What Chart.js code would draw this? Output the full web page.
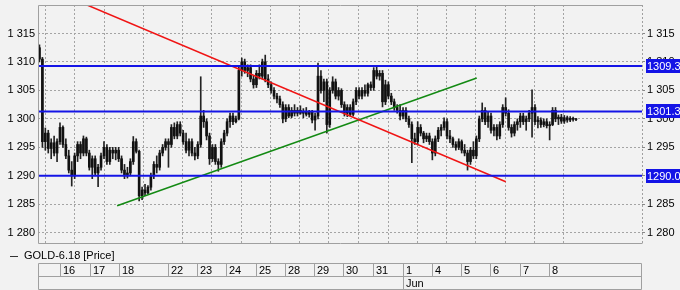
<!DOCTYPE html>
<html>
<head>
<meta charset="utf-8">
<script src="https://cdn.jsdelivr.net/npm/chart.js@4/dist/chart.umd.min.js"></script>
<style>
  html, body { margin: 0; padding: 0; background: #f2f2f2; }
  canvas { display: block; }
</style>
</head>
<body>
<canvas id="goldChart" width="680" height="290"></canvas>
<script>
// session labels under the chart and the bar index where each session starts
const dayLabels = ['16', '17', '18', '22', '23', '24', '25', '28', '29', '30', '31', '1', '4', '5', '6', '7', '8'];
const dayStarts = [7.5, 17.7, 27.6, 44.4, 54.3, 64.2, 74.4, 84.3, 94.2, 104.1, 114.3, 124.6, 134.5, 144.4, 154.3, 164.5, 174.4];
const monthLabels = ['Jun'];
const monthStarts = [124.6];
const yTickValues = [1280, 1285, 1290, 1295, 1300, 1305, 1310, 1315];

// horizontal levels and trend lines (bar index, price)
const levels = [1309.3, 1301.3, 1290.0];
const redTrend = [[16.74, 1320], [159.55, 1288.95]];
const greenTrend = [[26.99, 1284.74], [149.64, 1307.19]];

// GOLD-6.18 bars: [open, high, low, close]
const bars = [
  [1312.5, 1313.0, 1310.0, 1310.5], [1310.5, 1310.8, 1295.0, 1296.0], [1296.0, 1298.4, 1294.5, 1297.5], [1297.5, 1298.0, 1294.0, 1294.8],
  [1294.8, 1296.5, 1293.0, 1295.8], [1295.8, 1297.0, 1293.5, 1294.0], [1294.0, 1296.5, 1292.5, 1296.0], [1296.0, 1299.3, 1295.5, 1298.5],
  [1298.5, 1298.8, 1295.0, 1295.5], [1295.5, 1296.5, 1293.0, 1293.5], [1293.5, 1294.5, 1290.5, 1291.0], [1291.0, 1292.5, 1288.2, 1290.0],
  [1290.0, 1294.0, 1289.5, 1293.5], [1293.5, 1296.0, 1292.5, 1295.5], [1295.5, 1296.0, 1293.0, 1294.0], [1294.0, 1297.0, 1293.5, 1296.5],
  [1296.5, 1296.8, 1293.5, 1294.0], [1294.0, 1294.5, 1291.0, 1291.5], [1291.5, 1293.5, 1289.5, 1293.0], [1293.0, 1293.5, 1290.0, 1290.5],
  [1290.5, 1292.0, 1288.1, 1291.5], [1291.5, 1294.0, 1291.0, 1293.5], [1293.5, 1296.0, 1293.0, 1295.0], [1295.0, 1295.5, 1292.0, 1292.5],
  [1292.5, 1295.0, 1292.0, 1294.5], [1294.5, 1295.0, 1293.0, 1294.0], [1294.0, 1295.0, 1292.8, 1294.5], [1294.5, 1295.0, 1292.5, 1293.0],
  [1293.0, 1293.5, 1290.5, 1291.0], [1291.0, 1292.0, 1289.5, 1290.0], [1290.0, 1291.5, 1289.6, 1290.5], [1290.5, 1293.0, 1290.0, 1292.5],
  [1292.5, 1296.9, 1292.0, 1296.0], [1296.0, 1296.5, 1294.0, 1294.3], [1294.3, 1294.5, 1285.6, 1286.5], [1286.5, 1288.0, 1285.8, 1287.5],
  [1287.5, 1288.5, 1286.5, 1287.0], [1287.0, 1288.3, 1286.8, 1288.0], [1288.0, 1290.5, 1287.5, 1290.0], [1290.0, 1292.5, 1289.5, 1292.0],
  [1292.0, 1293.5, 1290.5, 1291.5], [1291.5, 1294.5, 1291.0, 1294.0], [1294.0, 1295.5, 1293.5, 1295.0], [1295.0, 1296.5, 1294.5, 1296.0],
  [1296.0, 1296.5, 1291.5, 1295.5], [1295.5, 1299.0, 1295.0, 1298.5], [1298.5, 1299.3, 1296.5, 1297.0], [1297.0, 1299.5, 1296.5, 1299.0],
  [1299.0, 1299.5, 1297.0, 1297.5], [1297.5, 1298.0, 1295.5, 1296.0], [1296.0, 1297.5, 1294.0, 1294.5], [1294.5, 1296.5, 1293.5, 1296.0],
  [1296.0, 1296.5, 1293.5, 1294.0], [1294.0, 1295.0, 1292.8, 1293.5], [1293.5, 1296.0, 1293.0, 1295.5], [1295.5, 1307.4, 1295.0, 1300.5],
  [1300.5, 1301.5, 1298.5, 1299.5], [1299.5, 1300.0, 1296.3, 1297.0], [1297.0, 1297.5, 1292.0, 1293.0], [1293.0, 1295.5, 1292.5, 1295.0],
  [1295.0, 1295.5, 1292.0, 1292.5], [1292.5, 1293.0, 1290.8, 1292.0], [1292.0, 1296.5, 1291.5, 1296.0], [1296.0, 1298.0, 1295.5, 1297.5],
  [1297.5, 1300.0, 1297.0, 1299.5], [1299.5, 1301.0, 1298.5, 1300.5], [1300.5, 1301.0, 1299.0, 1299.5], [1299.5, 1300.5, 1299.3, 1300.0],
  [1300.0, 1309.2, 1299.8, 1308.5], [1308.5, 1310.7, 1307.5, 1310.0], [1310.0, 1310.5, 1308.0, 1308.5], [1308.5, 1309.5, 1307.4, 1309.0],
  [1309.0, 1309.5, 1306.5, 1307.0], [1307.0, 1307.5, 1305.4, 1306.0], [1306.0, 1308.5, 1305.5, 1308.0], [1308.0, 1309.5, 1307.0, 1307.5],
  [1307.5, 1310.5, 1307.0, 1310.0], [1310.0, 1311.2, 1306.5, 1307.0], [1307.0, 1307.8, 1305.5, 1306.0], [1306.0, 1306.5, 1304.5, 1305.0],
  [1305.0, 1305.5, 1303.5, 1304.0], [1304.0, 1304.5, 1302.8, 1303.5], [1303.5, 1304.0, 1302.0, 1302.5], [1302.5, 1303.0, 1299.3, 1300.0],
  [1300.0, 1302.5, 1299.5, 1302.0], [1302.0, 1302.5, 1300.2, 1300.5], [1300.5, 1302.0, 1300.2, 1301.5], [1301.5, 1302.5, 1300.5, 1301.0],
  [1301.0, 1302.0, 1300.5, 1301.5], [1301.5, 1302.3, 1300.8, 1301.0], [1301.0, 1301.8, 1300.2, 1301.3], [1301.3, 1302.0, 1300.5, 1300.8],
  [1300.8, 1301.5, 1300.3, 1301.2], [1301.2, 1301.5, 1299.3, 1299.8], [1299.8, 1301.0, 1298.0, 1300.5], [1300.5, 1309.8, 1300.0, 1307.5],
  [1307.5, 1308.5, 1304.5, 1305.0], [1305.0, 1307.0, 1303.0, 1306.5], [1306.5, 1307.0, 1297.5, 1299.0], [1299.0, 1305.5, 1298.5, 1305.0],
  [1305.0, 1307.4, 1304.5, 1306.5], [1306.5, 1307.0, 1303.5, 1304.0], [1304.0, 1305.5, 1303.3, 1305.0], [1305.0, 1305.3, 1302.0, 1302.5],
  [1302.5, 1303.0, 1300.5, 1301.0], [1301.0, 1302.5, 1300.4, 1302.0], [1302.0, 1302.5, 1300.5, 1300.8], [1300.8, 1303.5, 1300.5, 1303.0],
  [1303.0, 1305.5, 1302.5, 1305.0], [1305.0, 1305.5, 1303.5, 1304.0], [1304.0, 1305.5, 1303.5, 1305.0], [1305.0, 1306.0, 1304.0, 1304.5],
  [1304.5, 1306.3, 1304.0, 1306.0], [1306.0, 1306.5, 1305.0, 1305.5], [1305.5, 1309.0, 1305.0, 1308.5], [1308.5, 1309.2, 1307.0, 1307.5],
  [1307.5, 1308.5, 1306.8, 1308.0], [1308.0, 1308.5, 1302.1, 1303.0], [1303.0, 1306.8, 1302.5, 1306.0], [1306.0, 1306.5, 1303.5, 1304.0],
  [1304.0, 1304.5, 1302.5, 1303.0], [1303.0, 1303.5, 1301.5, 1302.0], [1302.0, 1302.5, 1301.0, 1301.5], [1301.5, 1302.5, 1299.8, 1300.5],
  [1300.5, 1302.0, 1300.0, 1301.5], [1301.5, 1302.0, 1299.5, 1300.0], [1300.0, 1300.5, 1298.5, 1299.0], [1299.0, 1299.5, 1292.3, 1296.5],
  [1296.5, 1297.5, 1295.5, 1296.0], [1296.0, 1299.5, 1295.5, 1298.5], [1298.5, 1299.0, 1297.0, 1297.5], [1297.5, 1297.8, 1295.8, 1296.5],
  [1296.5, 1297.5, 1296.0, 1297.0], [1297.0, 1297.5, 1295.5, 1296.0], [1296.0, 1296.5, 1292.8, 1294.0], [1294.0, 1297.0, 1293.5, 1296.5],
  [1296.5, 1298.5, 1296.0, 1298.0], [1298.0, 1299.0, 1297.0, 1298.5], [1298.5, 1300.2, 1298.0, 1299.5], [1299.5, 1300.0, 1296.5, 1297.0],
  [1297.0, 1298.0, 1295.8, 1296.5], [1296.5, 1296.8, 1295.0, 1295.5], [1295.5, 1296.0, 1294.5, 1295.0], [1295.0, 1296.5, 1294.6, 1296.0],
  [1296.0, 1296.3, 1294.0, 1294.5], [1294.5, 1295.5, 1293.5, 1294.0], [1294.0, 1294.5, 1291.0, 1292.5], [1292.5, 1295.0, 1292.0, 1294.5],
  [1294.5, 1296.0, 1293.0, 1293.5], [1293.5, 1297.0, 1293.0, 1296.5], [1296.5, 1300.5, 1296.0, 1300.0], [1300.0, 1302.8, 1299.5, 1301.5],
  [1301.5, 1302.0, 1299.0, 1299.5], [1299.5, 1301.2, 1298.5, 1300.5], [1300.5, 1301.0, 1297.5, 1298.0], [1298.0, 1299.0, 1297.0, 1298.5],
  [1298.5, 1299.0, 1296.3, 1297.0], [1297.0, 1299.5, 1296.5, 1299.0], [1299.0, 1302.5, 1298.5, 1302.0], [1302.0, 1303.7, 1300.5, 1301.0],
  [1301.0, 1301.6, 1298.0, 1298.5], [1298.5, 1299.0, 1296.8, 1297.5], [1297.5, 1299.5, 1297.0, 1299.0], [1299.0, 1300.0, 1298.0, 1299.5],
  [1299.5, 1301.0, 1298.5, 1300.5], [1300.5, 1301.0, 1299.0, 1299.5], [1299.5, 1300.5, 1298.0, 1300.0], [1300.0, 1301.5, 1299.5, 1301.0],
  [1301.0, 1305.1, 1296.8, 1302.0], [1302.0, 1302.5, 1299.0, 1299.5], [1299.5, 1300.4, 1298.4, 1299.8], [1299.8, 1300.2, 1298.5, 1299.0],
  [1299.0, 1300.0, 1298.6, 1299.5], [1299.5, 1300.0, 1298.4, 1298.8], [1298.8, 1299.5, 1296.3, 1299.0], [1299.0, 1302.0, 1298.8, 1301.5],
  [1301.5, 1302.0, 1299.5, 1300.0], [1300.0, 1300.7, 1299.0, 1300.3], [1300.3, 1300.8, 1299.2, 1299.6], [1299.6, 1300.6, 1299.2, 1300.2],
  [1300.2, 1300.5, 1299.4, 1299.8], [1299.8, 1300.4, 1299.5, 1300.1], [1300.1, 1300.3, 1299.6, 1299.9], [1299.9, 1300.1, 1299.7, 1300.0]
];

const X_MAX = 206;
const Y_MIN = 1278.2;
const Y_MAX = 1320;
const GRID = '#a4a4a4';
const FRAME = '#a0a0a0';
const LEVEL_BLUE = '#1414e6';

Chart.defaults.font.family = '"Liberation Sans", Arial, sans-serif';
Chart.defaults.font.size = 11;
Chart.defaults.color = '#000';

const fmtPrice = v => String(v).replace(/(\d)(\d{3})$/, '$1 $2');

const wickData = bars.map((b, i) => ({ x: i + 0.5, y: [b[2], b[1]] }));
const bodyData = bars.map((b, i) => ({ x: i + 0.5, y: [Math.min(b[0], b[3]), Math.max(b[0], b[3])] }));
const lineOf = pts => pts.map(p => ({ x: p[0], y: p[1] }));

const levelSets = levels.map(lv => ({
    type: 'line',
    data: [{ x: 0, y: lv }, { x: X_MAX, y: lv }],
    borderColor: LEVEL_BLUE,
    borderWidth: 2,
    pointRadius: 0,
    order: 0
}));

// fixed axis boxes, no extra label padding
const fitY = s => { s.width = 38; s.paddingTop = 0; s.paddingBottom = 0; };

const frameAndTable = {
    id: 'frameAndTable',
    beforeDraw(chart) {
        const { ctx } = chart;
        ctx.save();
        ctx.fillStyle = '#f2f2f2';
        ctx.fillRect(0, 0, chart.width, chart.height);
        ctx.restore();
    },
    afterDraw(chart) {
        const { ctx, chartArea: a, scales } = chart;
        ctx.save();
        // plot frame
        ctx.strokeStyle = FRAME;
        ctx.lineWidth = 1;
        ctx.beginPath();
        ctx.moveTo(Math.round(a.right) + 0.5, Math.round(a.top) + 0.5);
        ctx.lineTo(Math.round(a.left) + 0.5, Math.round(a.top) + 0.5);
        ctx.lineTo(Math.round(a.left) + 0.5, Math.round(a.bottom) + 0.5);
        ctx.lineTo(Math.round(a.right) + 0.5, Math.round(a.bottom) + 0.5);
        ctx.stroke();
        ctx.setLineDash([2, 2]);
        ctx.beginPath();
        ctx.moveTo(Math.round(a.right) + 0.5, a.top);
        ctx.lineTo(Math.round(a.right) + 0.5, a.bottom);
        ctx.stroke();
        ctx.setLineDash([]);

        // price tags on the right
        ctx.font = '11px "Liberation Sans", Arial, sans-serif';
        ctx.textBaseline = 'middle';
        ctx.textAlign = 'left';
        levels.forEach(lv => {
            const y = Math.round(scales.y.getPixelForValue(lv));
            ctx.fillStyle = LEVEL_BLUE;
            ctx.fillRect(646, y - 7, 34, 14);
            ctx.fillStyle = '#fff';
            ctx.fillText(lv.toFixed(1), 647, y + 0.5);
        });

        // legend line
        ctx.strokeStyle = '#333';
        ctx.beginPath();
        ctx.moveTo(10, 256.5);
        ctx.lineTo(18, 256.5);
        ctx.stroke();
        ctx.fillStyle = '#000';
        ctx.fillText('GOLD-6.18 [Price]', 24, 256);

        // date table
        const L = Math.round(a.left) + 0.5;
        const R = Math.round(a.right) - 0.5;
        const rows = [263.5, 276.5, 289.5];
        ctx.strokeStyle = FRAME;
        ctx.beginPath();
        rows.forEach(y => { ctx.moveTo(L, y); ctx.lineTo(R, y); });
        ctx.moveTo(L, rows[0]); ctx.lineTo(L, rows[2]);
        ctx.moveTo(R, rows[0]); ctx.lineTo(R, rows[2]);
        dayStarts.forEach(d => {
            const x = Math.round(scales.x.getPixelForValue(d)) + 0.5;
            ctx.moveTo(x, rows[0]); ctx.lineTo(x, rows[1]);
        });
        monthStarts.forEach(d => {
            const x = Math.round(scales.x.getPixelForValue(d)) + 0.5;
            ctx.moveTo(x, rows[1]); ctx.lineTo(x, rows[2]);
        });
        ctx.stroke();
        ctx.fillStyle = '#000';
        dayLabels.forEach((t, k) => {
            ctx.fillText(t, Math.round(scales.x.getPixelForValue(dayStarts[k])) + 3, 270.5);
        });
        monthLabels.forEach((t, k) => {
            ctx.fillText(t, Math.round(scales.x.getPixelForValue(monthStarts[k])) + 3, 283.5);
        });
        ctx.restore();
    }
};

new Chart(document.getElementById('goldChart'), {
    type: 'bar',
    data: {
        datasets: [
            ...levelSets,
            { type: 'line', data: lineOf(redTrend), borderColor: '#f01414', borderWidth: 1.5, pointRadius: 0, order: 0 },
            { type: 'line', data: lineOf(greenTrend), borderColor: '#138a13', borderWidth: 1.5, pointRadius: 0, order: 0 },
            { data: bodyData, backgroundColor: '#111', barThickness: 2, grouped: false, order: 1 },
            { data: wickData, backgroundColor: '#222', barThickness: 1, grouped: false, order: 2 }
        ]
    },
    options: {
        responsive: false,
        animation: false,
        layout: { padding: { top: 5, bottom: 47, left: 0, right: 0 } },
        plugins: { legend: { display: false }, tooltip: { enabled: false } },
        scales: {
            x: {
                type: 'linear', min: 0, max: X_MAX, offset: false,
                afterBuildTicks: s => { s.ticks = dayStarts.map(v => ({ value: v })); },
                afterFit: s => { s.height = 0; s.paddingLeft = 0; s.paddingRight = 0; },
                ticks: { display: false },
                grid: { color: GRID, drawTicks: false },
                border: { display: false, dash: [2, 2] }
            },
            y: {
                position: 'left', min: Y_MIN, max: Y_MAX,
                afterBuildTicks: s => { s.ticks = yTickValues.map(v => ({ value: v })); },
                afterFit: fitY,
                ticks: { padding: 3, callback: v => fmtPrice(v) },
                grid: { color: GRID, drawTicks: false },
                border: { display: false, dash: [2, 2] }
            },
            y2: {
                position: 'right', min: Y_MIN, max: Y_MAX,
                afterBuildTicks: s => { s.ticks = yTickValues.map(v => ({ value: v })); },
                afterFit: fitY,
                ticks: { padding: 2, callback: v => fmtPrice(v) },
                grid: { drawOnChartArea: false, color: '#888', tickLength: 3 },
                border: { display: false }
            }
        }
    },
    plugins: [frameAndTable]
});
</script>
</body>
</html>
